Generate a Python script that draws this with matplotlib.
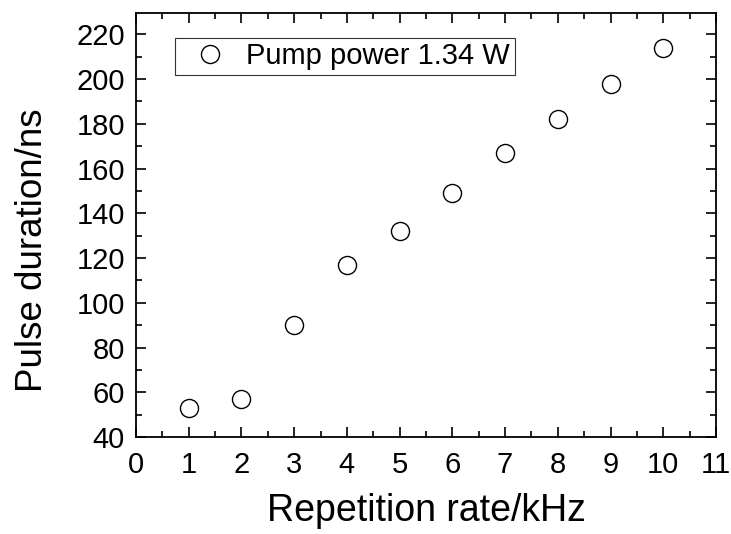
import matplotlib
matplotlib.use("Agg")
import matplotlib.pyplot as plt
from matplotlib.ticker import MultipleLocator

plt.rcParams['font.family'] = ['Liberation Sans', 'DejaVu Sans']

# data
rep_rate = [1, 2, 3, 4, 5, 6, 7, 8, 9, 10]
pulse_ns = [53, 57, 90, 117, 132, 149, 167, 182, 198, 214]

fig = plt.figure(figsize=(7.31, 5.34), dpi=100)
ax = fig.add_axes([0.186, 0.1816, 0.7935, 0.794])
ax.plot(rep_rate, pulse_ns, ls='none', marker='o', ms=13, mfc='white',
        mec='black', mew=1.0, label='Pump power 1.34 W')

ax.set_xlim(0, 11)
ax.set_ylim(40, 229.5)
ax.xaxis.set_major_locator(MultipleLocator(1))
ax.xaxis.set_minor_locator(MultipleLocator(0.5))
ax.yaxis.set_major_locator(MultipleLocator(20))
ax.yaxis.set_minor_locator(MultipleLocator(10))
ax.tick_params(which='both', direction='in', top=True, right=True, width=1.2)
ax.tick_params(which='major', length=7, labelsize=21)
ax.tick_params(which='minor', length=4)
ax.tick_params(axis='x', pad=10)
ax.tick_params(axis='y', pad=8)
for s in ax.spines.values():
    s.set_linewidth(1.3)

ax.set_xlabel('Repetition rate/kHz', fontsize=27, labelpad=10)
ax.set_ylabel('Pulse duration/ns', fontsize=26.5)
# label sits a bit below the axes centre in the reference
ax.yaxis.set_label_coords(-0.149, 0.441)

leg = ax.legend(loc='upper left', bbox_to_anchor=(175 / 731, 1 - 38 / 534),
                bbox_transform=fig.transFigure, borderaxespad=0, fontsize=21,
                frameon=True, fancybox=False, edgecolor='black',
                handletextpad=0.2, borderpad=0.15, handlelength=2.1)
leg.get_frame().set_linewidth(0.8)

plt.savefig("out.png", dpi=100)
